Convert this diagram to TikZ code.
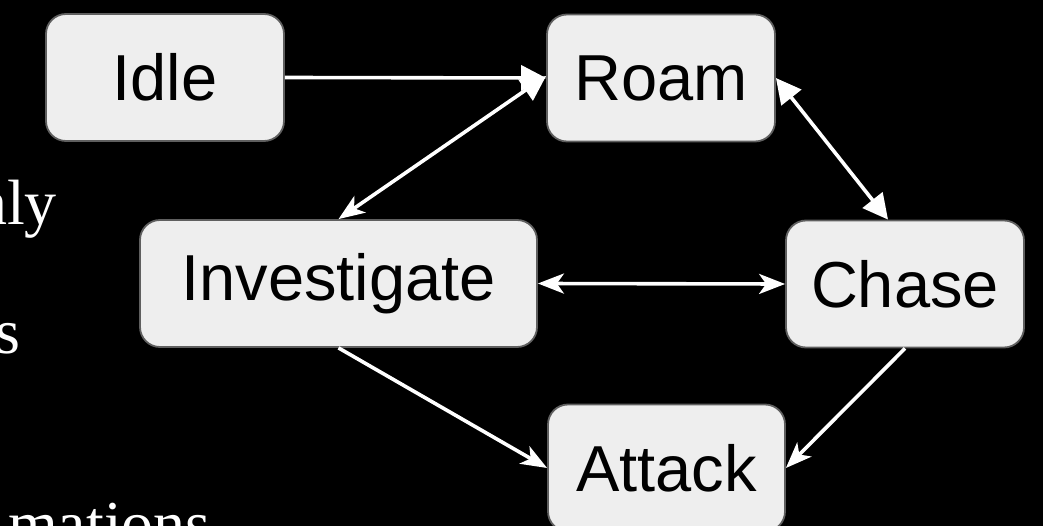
\documentclass[tikz,border=0pt]{standalone}
\usepackage{fontspec}
\setmainfont{Liberation Serif}
\newfontfamily\boxfont{Liberation Sans}
\usetikzlibrary{arrows.meta}
\definecolor{boxfill}{HTML}{EEEEEE}
\definecolor{boxline}{HTML}{5F5F5F}
\tikzset{
  statebox/.style={draw=boxline, line width=1.8pt, fill=boxfill, rounded corners=20pt,
    minimum height=127pt, inner sep=0pt, font=\boxfont\fontsize{65}{70}\selectfont, text=black},
  conn/.style={draw=white, line width=3.6pt},
  tri/.tip={Triangle[length=25pt, width=25pt]},
  stl/.tip={Stealth[length=26pt, width=20pt, inset=7pt]},
  bgtext/.style={text=white, inner sep=0pt, font=\fontsize{64}{70}\selectfont}
}
\begin{document}
\begin{tikzpicture}[x=1pt, y=-1pt]
\fill[black] (0,0) rectangle (1043,526);
\useasboundingbox (0,0) rectangle (1043,526);
% background slide text fragments
\node[bgtext, anchor=base east] (t1) at (57,225) {nly};
\node[bgtext, anchor=base east] (t2) at (21,353) {s};
\node[bgtext, anchor=base west] (t3) at (8,545) {mations};
% states
\node[statebox, minimum width=238pt] (idle) at (165,77.5) {Idle};
\node[statebox, minimum width=228pt] (roam) at (661,78) {Roam};
\node[statebox, minimum width=397pt] (inv) at (338.5,283.5) {Investigate};
\node[statebox, minimum width=238pt] (chase) at (905,284) {Chase};
\node[statebox, minimum width=237pt] (attack) at (666.5,468) {Attack};
% connectors
\draw[conn, -tri] (idle.east) -- (roam.west);
\draw[conn, stl-tri] (inv.north) -- ([yshift=2pt]roam.west);
\draw[conn, tri-tri] (roam.east) -- ([xshift=-17pt]chase.north);
\draw[conn, stl-stl] (inv.east) -- (chase.west);
\draw[conn, -stl] (inv.south) -- (attack.west);
\draw[conn, -stl] (chase.south) -- (attack.east);
\end{tikzpicture}
\end{document}
